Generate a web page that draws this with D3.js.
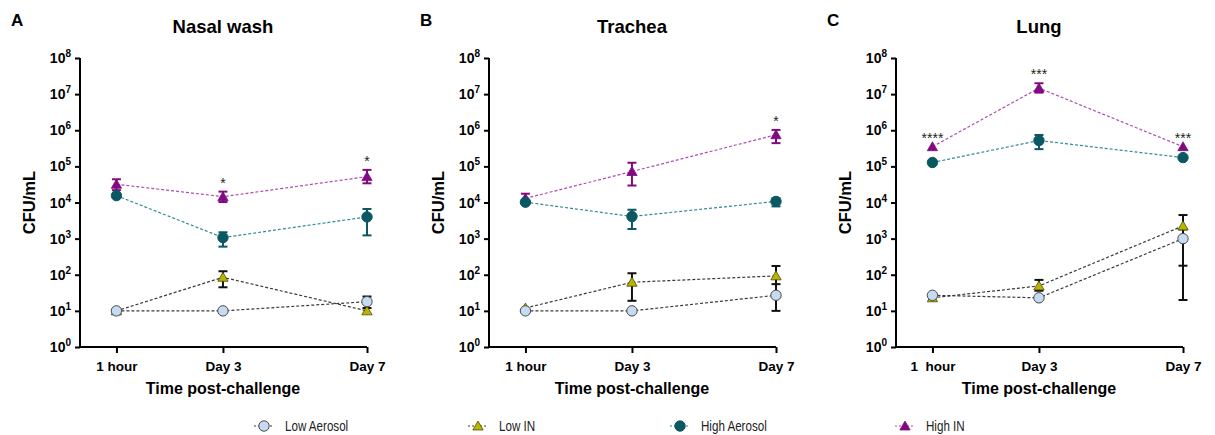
<!DOCTYPE html>
<html>
<head>
<meta charset="utf-8">
<script src="https://cdn.jsdelivr.net/npm/d3@7"></script>
<style>
  body { margin: 0; background: #fff; }
  text { font-family: "Liberation Sans", Arial, sans-serif; }
  .tick text { white-space: pre; }
</style>
</head>
<body>
<div id="chart"></div>
<script>
// Time points (days) and their labels
var timeDays = [1 / 24, 3, 7];
var timeLabelsAB = ["1 hour", "Day 3", "Day 7"];
var timeLabelsC = ["1  hour", "Day 3", "Day 7"];
var yTickValues = [1, 10, 100, 1e3, 1e4, 1e5, 1e6, 1e7, 1e8];

// Nasal wash
var nasalLowAerosol = [10, 10, 18];
var nasalLowAerosolLo = [10, 10, 12];
var nasalLowAerosolHi = [10, 10, 25];
var nasalLowIN = [10, 85, 10];
var nasalLowINLo = [10, 45, 10];
var nasalLowINHi = [10, 125, 10];
var nasalHighAerosol = [15500, 1070, 4000];
var nasalHighAerosolLo = [15500, 600, 1230];
var nasalHighAerosolHi = [15500, 1500, 6600];
var nasalHighIN = [32000, 14500, 52000];
var nasalHighINLo = [22000, 10300, 34000];
var nasalHighINHi = [44000, 20000, 80000];
var nasalSig = ["", "*", "*"];

// Trachea
var trachLowAerosol = [10, 10, 27];
var trachLowAerosolLo = [10, 10, 10];
var trachLowAerosolHi = [10, 10, 55];
var trachLowIN = [12, 62, 93];
var trachLowINLo = [12, 19, 30];
var trachLowINHi = [12, 110, 175];
var trachHighAerosol = [10200, 4100, 10700];
var trachHighAerosolLo = [10200, 1850, 7800];
var trachHighAerosolHi = [10200, 6300, 13200];
var trachHighIN = [13000, 72000, 750000];
var trachHighINLo = [13000, 29500, 440000];
var trachHighINHi = [17500, 126000, 1020000];
var trachSig = ["", "", "*"];

// Lung
var lungLowAerosol = [27, 23, 1000];
var lungLowAerosolLo = [27, 23, 20];
var lungLowAerosolHi = [27, 23, 1800];
var lungLowIN = [23, 49, 2250];
var lungLowINLo = [23, 36, 178];
var lungLowINHi = [23, 72, 4500];
var lungHighAerosol = [128000, 520000, 175000];
var lungHighAerosolLo = [128000, 300000, 175000];
var lungHighAerosolHi = [128000, 740000, 175000];
var lungHighIN = [350000, 14700000, 350000];
var lungHighINLo = [350000, 11000000, 350000];
var lungHighINHi = [350000, 20000000, 350000];
var lungSig = ["****", "***", "***"];

var seriesNames = ["Low Aerosol", "Low IN", "High Aerosol", "High IN"];
// order in which the markers are stacked (last on top)
var drawOrder = [1, 0, 3, 2];

// Series styling
var styles = {
  "Low Aerosol": { shape: "circle", fill: "#c6daf2", stroke: "#4a4a4a", line: "#3a3a3a", err: "#111" },
  "Low IN": { shape: "triangle", fill: "#b9b400", stroke: "#4a4a00", line: "#3a3a3a", err: "#111" },
  "High Aerosol": { shape: "circle", fill: "#0b5862", stroke: "#0b5862", line: "#2d8c93", err: "#0b5862" },
  "High IN": { shape: "triangle", fill: "#820a80", stroke: "#820a80", line: "#b04cb0", err: "#820a80" }
};

var panels = [
  { letter: "A", title: "Nasal wash", left: 80, labels: timeLabelsAB, sig: nasalSig,
    series: [[nasalLowAerosol, nasalLowAerosolLo, nasalLowAerosolHi],
             [nasalLowIN, nasalLowINLo, nasalLowINHi],
             [nasalHighAerosol, nasalHighAerosolLo, nasalHighAerosolHi],
             [nasalHighIN, nasalHighINLo, nasalHighINHi]] },
  { letter: "B", title: "Trachea", left: 489, labels: timeLabelsAB, sig: trachSig,
    series: [[trachLowAerosol, trachLowAerosolLo, trachLowAerosolHi],
             [trachLowIN, trachLowINLo, trachLowINHi],
             [trachHighAerosol, trachHighAerosolLo, trachHighAerosolHi],
             [trachHighIN, trachHighINLo, trachHighINHi]] },
  { letter: "C", title: "Lung", left: 896, labels: timeLabelsC, sig: lungSig,
    series: [[lungLowAerosol, lungLowAerosolLo, lungLowAerosolHi],
             [lungLowIN, lungLowINLo, lungLowINHi],
             [lungHighAerosol, lungHighAerosolLo, lungHighAerosolHi],
             [lungHighIN, lungHighINLo, lungHighINHi]] }
];

var svgWidth = 1215;
var svgHeight = 435;
var plotWidth = 287;
var plotTop = 58;
var plotBottom = 347;

var svg = d3.select("#chart")
  .append("svg")
  .attr("width", svgWidth)
  .attr("height", svgHeight);

var yScale = d3.scaleLog()
  .domain([1, 1e8])
  .range([plotBottom, plotTop]);

var triangle = d3.symbol().type(d3.symbolTriangle).size(46);

function drawMarker(g, name, x, y) {
  var st = styles[name];
  if (st.shape === "circle") {
    g.append("circle")
      .attr("cx", x).attr("cy", y)
      .attr("r", 5.2)
      .attr("fill", st.fill)
      .attr("stroke", st.stroke)
      .attr("stroke-width", 1);
  } else {
    g.append("path")
      .attr("d", triangle())
      .attr("transform", `translate(${x}, ${y + 1})`)
      .attr("fill", st.fill)
      .attr("stroke", st.stroke)
      .attr("stroke-width", 0.8);
  }
}

panels.forEach(function(p) {
  var xScale = d3.scaleLinear()
    .domain([-0.97, 7])
    .range([p.left, p.left + plotWidth]);

  var g = svg.append("g");

  // panel letter and title
  g.append("text")
    .attr("x", p.left - 69)
    .attr("y", 26)
    .attr("font-size", 17)
    .attr("font-weight", "bold")
    .text(p.letter);

  g.append("text")
    .attr("x", xScale(3))
    .attr("y", 33)
    .attr("text-anchor", "middle")
    .attr("font-size", 18.5)
    .attr("font-weight", "bold")
    .text(p.title);

  // y axis
  var leftAxis = d3.axisLeft(yScale)
    .tickValues(yTickValues)
    .tickSize(5)
    .tickFormat("");
  var yAxisG = g.append("g")
    .attr("transform", `translate(${p.left}, 0)`)
    .call(leftAxis);
  yAxisG.select(".domain").attr("stroke-width", 2).attr("d", `M-0,${plotTop}V${plotBottom}`);
  yAxisG.selectAll(".tick line").attr("stroke-width", 2);

  yTickValues.forEach(function(v) {
    var t = g.append("text")
      .attr("x", p.left - 9)
      .attr("y", yScale(v) + 5)
      .attr("text-anchor", "end")
      .attr("font-size", 14)
      .attr("font-weight", "bold");
    t.append("tspan").text("10");
    t.append("tspan")
      .attr("font-size", 10)
      .attr("dy", -6)
      .text(Math.round(Math.log10(v)));
  });

  g.append("text")
    .attr("transform", `translate(${p.left - 45}, ${(plotTop + plotBottom) / 2}) rotate(-90)`)
    .attr("text-anchor", "middle")
    .attr("font-size", 16.5)
    .attr("font-weight", "bold")
    .text("CFU/mL");

  // x axis
  var bottomAxis = d3.axisBottom(xScale)
    .tickValues(timeDays)
    .tickSize(6)
    .tickFormat(function(d, i) { return p.labels[i]; });
  var xAxisG = g.append("g")
    .attr("transform", `translate(0, ${plotBottom})`)
    .call(bottomAxis);
  xAxisG.select(".domain").attr("stroke-width", 2).attr("d", `M${p.left - 1},0H${p.left + plotWidth}`);
  xAxisG.selectAll(".tick line").attr("stroke-width", 2);
  xAxisG.selectAll(".tick text")
    .attr("y", 14)
    .attr("font-size", 13.5)
    .attr("font-weight", "bold")
    .attr("font-family", "Liberation Sans, Arial, sans-serif")
    .attr("fill", "#000");

  g.append("text")
    .attr("x", xScale(3))
    .attr("y", 394)
    .attr("text-anchor", "middle")
    .attr("font-size", 16)
    .attr("font-weight", "bold")
    .text("Time post-challenge");

  var line = d3.line()
    .x(function(d, i) { return xScale(timeDays[i]); })
    .y(function(d) { return yScale(d); });

  // dashed connecting lines
  p.series.forEach(function(s, k) {
    var st = styles[seriesNames[k]];
    g.append("path")
      .datum(s[0])
      .attr("d", line)
      .attr("fill", "none")
      .attr("stroke", st.line)
      .attr("stroke-width", 1.2)
      .attr("stroke-dasharray", "3,2");
  });

  // error bars
  p.series.forEach(function(s, k) {
    var st = styles[seriesNames[k]];
    s[0].forEach(function(v, i) {
      var x = xScale(timeDays[i]);
      var lo = s[1][i], hi = s[2][i];
      if (hi > lo) {
        g.append("line")
          .attr("x1", x).attr("x2", x)
          .attr("y1", yScale(lo)).attr("y2", yScale(hi))
          .attr("stroke", st.err).attr("stroke-width", 2);
        [lo, hi].forEach(function(e) {
          if (e !== v) {
            g.append("line")
              .attr("x1", x - 4.5).attr("x2", x + 4.5)
              .attr("y1", yScale(e)).attr("y2", yScale(e))
              .attr("stroke", st.err).attr("stroke-width", 2);
          }
        });
      }
    });
  });

  // markers
  drawOrder.forEach(function(k) {
    var s = p.series[k];
    s[0].forEach(function(v, i) {
      drawMarker(g, seriesNames[k], xScale(timeDays[i]), yScale(v));
    });
  });

  // significance stars above High IN
  var hiIN = p.series[3];
  p.sig.forEach(function(label, i) {
    if (!label) return;
    g.append("text")
      .attr("x", xScale(timeDays[i]))
      .attr("y", yScale(hiIN[2][i]) - 4)
      .attr("text-anchor", "middle")
      .attr("font-size", 14)
      .attr("fill", "#222")
      .text(label);
  });
});

// Legend
var legendX = [264, 478, 680, 905];
var legend = svg.append("g");
seriesNames.forEach(function(name, i) {
  var st = styles[name];
  var cx = legendX[i];
  legend.append("line")
    .attr("x1", cx - 10).attr("x2", cx + 10)
    .attr("y1", 426).attr("y2", 426)
    .attr("stroke", st.line)
    .attr("stroke-width", 1.2)
    .attr("stroke-dasharray", "2,2");
  drawMarker(legend, name, cx, 426);
  legend.append("text")
    .attr("transform", `translate(${cx + 21}, 431) scale(0.8, 1)`)
    .attr("font-size", 14.5)
    .attr("fill", "#222")
    .text(name);
});
</script>
</body>
</html>
